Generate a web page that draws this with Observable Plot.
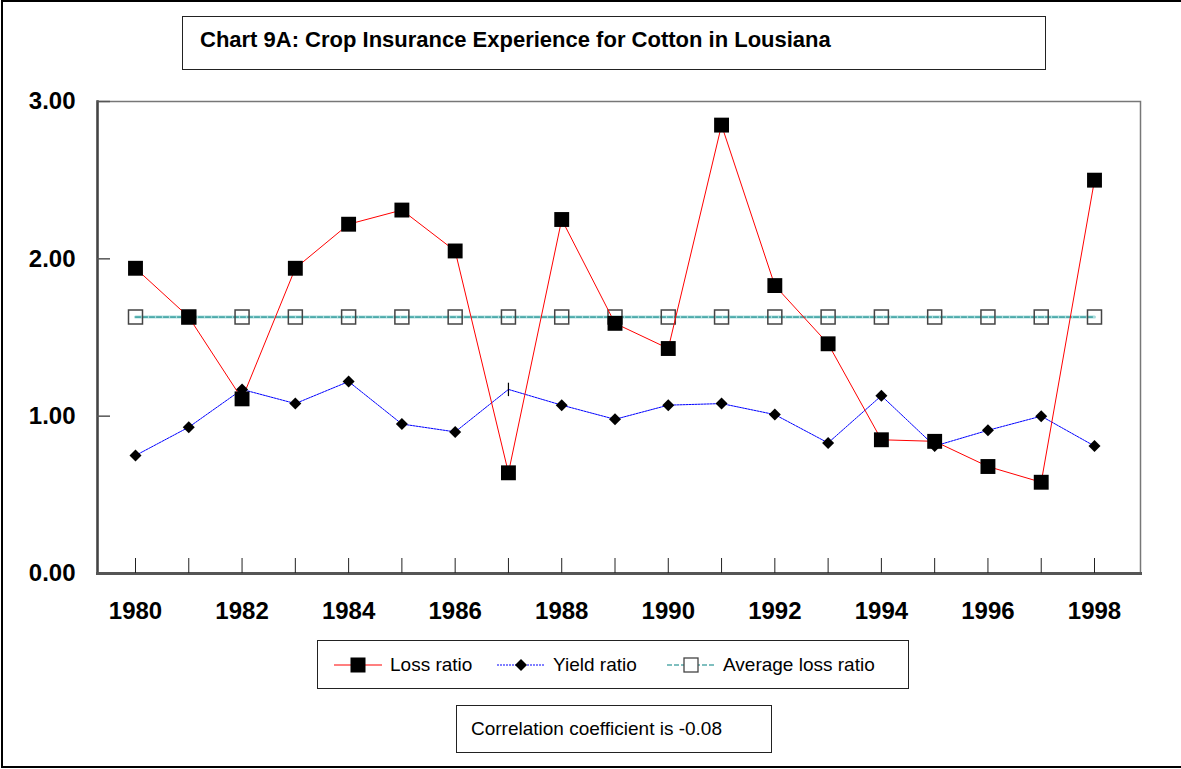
<!DOCTYPE html>
<html><head><meta charset="utf-8">
<script src="https://cdn.jsdelivr.net/npm/d3@7"></script>
<script src="https://cdn.jsdelivr.net/npm/@observablehq/plot@0.6"></script>
<style>
body{margin:0;background:#fff;overflow:hidden;font-family:"Liberation Sans",Arial,sans-serif;}
#wrap{position:relative;width:1181px;height:769px;overflow:hidden;}
#border{position:absolute;left:1px;top:0;width:1200px;height:764px;border:2px solid #000;}
#title{position:absolute;left:182px;top:16px;width:864px;height:54px;border:1.5px solid #222;box-sizing:border-box;font-weight:bold;font-size:22px;line-height:46px;padding-left:17px;background:#fff;}
#chart{position:absolute;left:0;top:0;}
#legend{position:absolute;left:317px;top:640px;width:592px;height:49px;border:1.5px solid #222;box-sizing:border-box;background:#fff;}
#corr{position:absolute;left:456px;top:705px;width:316px;height:48px;border:1.5px solid #222;box-sizing:border-box;font-size:19px;line-height:45px;padding-left:14px;background:#fff;}
.item{position:absolute;top:0;height:47px;display:flex;align-items:center;font-size:19px;}
.item svg{margin-right:8px;}
</style>
</head><body>
<div id="wrap">
  <div id="border"></div>
  <div id="chart"></div>
  <div id="title">Chart 9A: Crop Insurance Experience for Cotton in Lousiana</div>
  <div id="legend"></div>
  <div id="corr">Correlation coefficient is -0.08</div>
</div>
<script>
// ---- data ----
const years = [1980,1981,1982,1983,1984,1985,1986,1987,1988,1989,1990,1991,1992,1993,1994,1995,1996,1997,1998];
const lossRatio = [1.94,1.63,1.11,1.94,2.22,2.31,2.05,0.64,2.25,1.59,1.43,2.85,1.83,1.46,0.85,0.84,0.68,0.58,2.50];
const yieldRatio = [0.75,0.93,1.17,1.08,1.22,0.95,0.90,1.17,1.07,0.98,1.07,1.08,1.01,0.83,1.13,0.81,0.91,1.00,0.81];
const averageLossRatio = [1.63];
const xTickYears = [1980,1982,1984,1986,1988,1990,1992,1994,1996,1998];
const yTicks = [0,1,2,3];
const seriesNames = ["Loss ratio","Yield ratio","Average loss ratio"];
// year whose yield marker shows as a vertical tick in the original
const tickMarkerYears = [1987];

const rows = years.map((y,i)=>({year:y, loss:lossRatio[i], yld:yieldRatio[i], avg:averageLossRatio[0]}));

const vtick = {draw(ctx, size){ const s = Math.sqrt(size)*0.7; ctx.moveTo(0,-s); ctx.lineTo(0,s);} };
const font = '"Liberation Sans", Arial, sans-serif';

const chart = Plot.plot({
  width: 1181,
  height: 645,
  marginTop: 101,
  marginBottom: 72,
  marginLeft: 97,
  marginRight: 41,
  style: {fontFamily: font, background: "transparent", overflow: "visible"},
  x: {domain: [1980,1998], insetLeft: 38, insetRight: 46, label: null},
  y: {domain: [0,3], label: null},
  marks: [
    Plot.frame({stroke: "#777", strokeWidth: 1.5}),
    Plot.frame({anchor: "left", stroke: "#444", strokeWidth: 2.5}),
    Plot.frame({anchor: "bottom", stroke: "#555", strokeWidth: 3}),
    Plot.ruleX(years, {x: d=>d, insetTop: 457, stroke: "#222", strokeWidth: 1}),
    Plot.ruleY(yTicks.filter(d=>d>0), {y: d=>d, insetRight: 1030, stroke: "#555", strokeWidth: 1.5}),
    Plot.axisX({ticks: xTickYears, tickFormat: "d", tickSize: 0, tickPadding: 28, fontSize: 24, fontWeight: "bold", fill: "#000", label: null}),
    Plot.axisY({ticks: yTicks, tickFormat: ".2f", tickSize: 0, tickPadding: 22, fontSize: 24, fontWeight: "bold", fill: "#000", label: null}),
    // average loss ratio
    Plot.line(rows, {x: "year", y: "avg", stroke: "#aadddd", strokeWidth: 3}),
    Plot.line(rows, {x: "year", y: "avg", stroke: "#008080", strokeWidth: 1, strokeDasharray: "5,2"}),
    Plot.dot(rows, {x: "year", y: "avg", symbol: "square", r: 7.9, fill: "none", stroke: "#444", strokeWidth: 1.5}),
    // yield ratio
    Plot.line(rows, {x: "year", y: "yld", stroke: "#0000ff", strokeWidth: 1, strokeDasharray: "2,1"}),
    // loss ratio
    Plot.line(rows, {x: "year", y: "loss", stroke: "#ff0000", strokeWidth: 1}),
    Plot.dot(rows.filter(d=>!tickMarkerYears.includes(d.year)), {x: "year", y: "yld", symbol: "diamond2", r: 5.4, fill: "#000", stroke: "none"}),
    Plot.dot(rows.filter(d=>tickMarkerYears.includes(d.year)), {x: "year", y: "yld", symbol: vtick, r: 5.4, fill: "none", stroke: "#000", strokeWidth: 1.2}),
    Plot.dot(rows, {x: "year", y: "loss", symbol: "square", r: 8.4, fill: "#000", stroke: "none"})
  ]
});
document.getElementById("chart").appendChild(chart);

// legend
const legendDefs = [
  {name: seriesNames[0], left: 16, line: "#ff0000", dash: null, marker: "fillsq"},
  {name: seriesNames[1], left: 179, line: "#0000ff", dash: "2,1", marker: "diamond"},
  {name: seriesNames[2], left: 349, line: "#008080", dash: "5,2", marker: "opensq"}
];
const legend = document.getElementById("legend");
for (const d of legendDefs) {
  const item = document.createElement("div");
  item.className = "item";
  item.style.left = d.left + "px";
  let m = "";
  if (d.marker === "fillsq") m = '<rect x="16.5" y="2.5" width="15" height="15" fill="#000"/>';
  if (d.marker === "diamond") m = '<path d="M24 4 L30 10 L24 16 L18 10 Z" fill="#000"/>';
  if (d.marker === "opensq") m = '<rect x="17" y="3" width="14" height="14" fill="#fff" stroke="#444" stroke-width="1.3"/>';
  item.innerHTML = `<svg width="48" height="20"><line x1="0" x2="48" y1="10" y2="10" stroke="${d.line}" stroke-width="1.2" ${d.dash?`stroke-dasharray="${d.dash}"`:""}/>${m}</svg><span>${d.name}</span>`;
  legend.appendChild(item);
}
</script>
</body></html>
